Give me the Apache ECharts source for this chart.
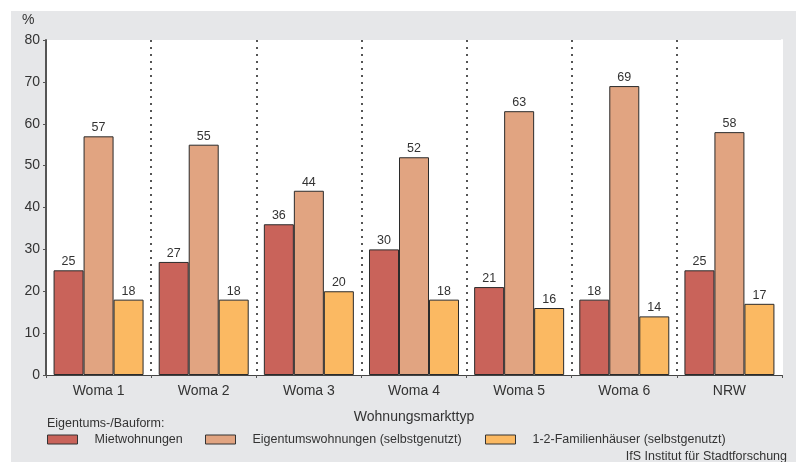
<!DOCTYPE html>
<html>
<head>
<meta charset="utf-8">
<script src="https://cdn.jsdelivr.net/npm/echarts@6/dist/echarts.min.js"></script>
<style>
  html, body { margin: 0; padding: 0; background: #ffffff; }
  #panel { position: absolute; left: 11px; top: 11px; right: 0; bottom: 0; background: #e6e7e9; }
  #chart { position: absolute; left: 0; top: 0; width: 796px; height: 462px; }
</style>
</head>
<body>
<div id="panel"></div>
<div id="chart"></div>
<script>
// Wohnungsmarkttypen (Kategorien der x-Achse)
const categories = ['Woma 1', 'Woma 2', 'Woma 3', 'Woma 4', 'Woma 5', 'Woma 6', 'NRW'];

// Anteile in Prozent je Eigentums-/Bauform
const mietwohnungen = [25, 27, 36, 30, 21, 18, 25];
const eigentumswohnungen = [57, 55, 44, 52, 63, 69, 58];
const familienhaeuser = [18, 18, 20, 18, 16, 14, 17];

const seriesNames = [
  'Mietwohnungen',
  'Eigentumswohnungen (selbstgenutzt)',
  '1-2-Familienhäuser (selbstgenutzt)'
];
const seriesColors = ['#c9635a', '#e1a481', '#fbb962'];
const seriesData = [mietwohnungen, eigentumswohnungen, familienhaeuser];

const FONT = 'Liberation Sans, Arial, sans-serif';
const TEXT = '#333333';

const chart = echarts.init(document.getElementById('chart'), null, { renderer: 'canvas' });

// one legend block per series, each at its own column
const legendLefts = [42, 200, 480];
const legends = seriesNames.map((name, i) => ({
  data: [name],
  left: legendLefts[i],
  top: 428,
  padding: 5,
  itemWidth: 30,
  itemHeight: 9,
  itemGap: 0,
  icon: 'rect',
  selectedMode: false,
  itemStyle: { borderColor: '#333333', borderWidth: 1 },
  textStyle: { fontFamily: FONT, fontSize: 12.5, color: TEXT, padding: [0, 0, 0, 12] }
}));

chart.setOption({
  backgroundColor: 'transparent',
  animation: false,
  textStyle: { fontFamily: FONT },
  grid: {
    left: 46, right: 14, top: 40, bottom: 87,
    show: true, backgroundColor: '#ffffff', borderWidth: 0
  },
  legend: legends,
  graphic: [
    { type: 'text', left: 22, top: 13, style: { text: '%', font: '14px ' + FONT, fill: TEXT } },
    { type: 'text', left: 47, top: 417, style: { text: 'Eigentums-/Bauform:', font: '12.5px ' + FONT, fill: TEXT } },
    { type: 'text', right: 9, top: 450, style: { text: 'IfS Institut für Stadtforschung', font: '12.5px ' + FONT, fill: TEXT } }
  ],
  xAxis: {
    type: 'category',
    data: categories,
    boundaryGap: true,
    name: 'Wohnungsmarkttyp',
    nameLocation: 'middle',
    nameGap: 35,
    nameTextStyle: { fontFamily: FONT, fontSize: 14, color: TEXT },
    axisLine: { lineStyle: { color: '#444444', width: 1 } },
    axisTick: { show: true, length: 3, lineStyle: { color: '#555555', width: 1 } },
    axisLabel: { fontFamily: FONT, fontSize: 14, color: TEXT, margin: 9 },
    splitLine: {
      show: true,
      interval: 0,
      lineStyle: { color: '#555555', type: [2, 5], width: 2 }
    }
  },
  yAxis: [
    {
      type: 'value',
      min: 0, max: 80, interval: 10,
      axisLine: { show: true, lineStyle: { color: '#555555', width: 2 } },
      axisTick: { show: true, length: 3, inside: false, lineStyle: { color: '#555555' } },
      axisLabel: { fontFamily: FONT, fontSize: 14, color: TEXT, margin: 6 },
      splitLine: { show: false }
    },
    {
      // plain right edge of the plot area
      type: 'value',
      position: 'right',
      min: 0, max: 80, interval: 10,
      axisLine: { show: true, lineStyle: { color: '#ffffff', width: 2 } },
      axisTick: { show: false },
      axisLabel: { show: false },
      splitLine: { show: false }
    }
  ],
  series: seriesNames.map((name, i) => ({
    name: name,
    type: 'bar',
    data: seriesData[i],
    barWidth: 30,
    barGap: '0%',
    itemStyle: { color: seriesColors[i], borderColor: '#2b2b2b', borderWidth: 1 },
    label: {
      show: true, position: 'top', distance: 2,
      fontFamily: FONT, fontSize: 12.5, color: TEXT
    }
  }))
});
</script>
</body>
</html>
